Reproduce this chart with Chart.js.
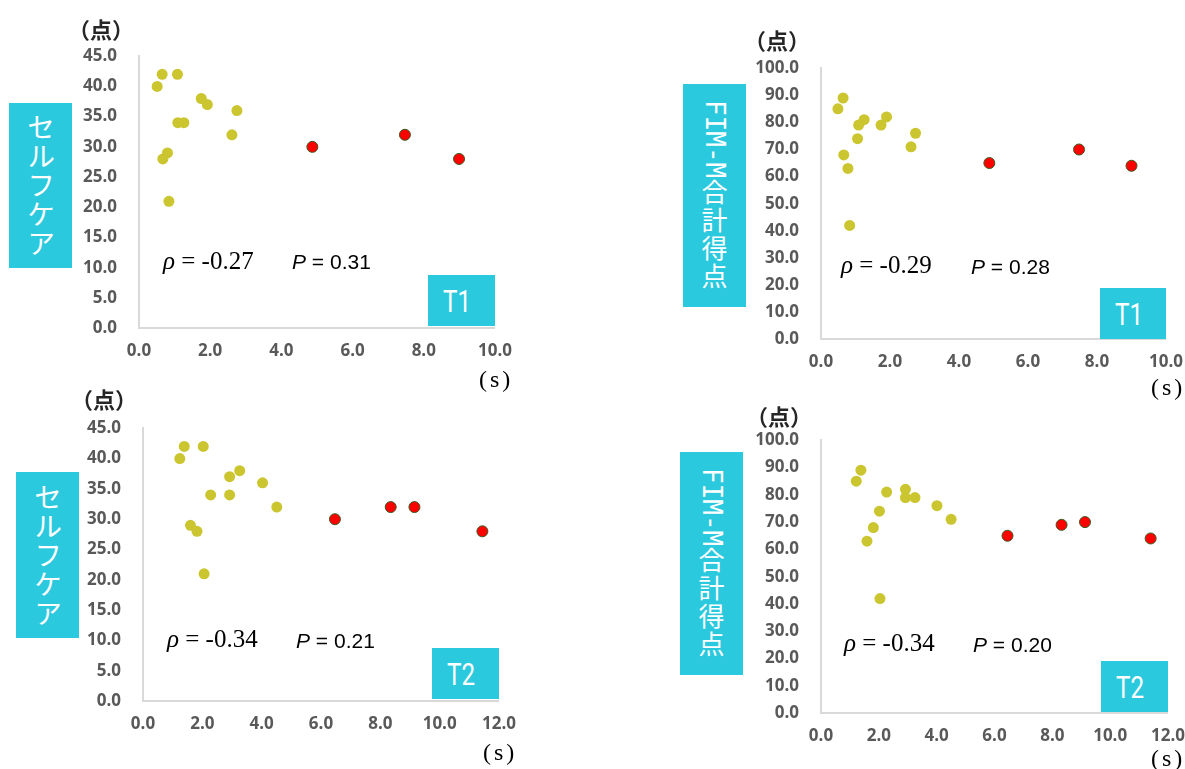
<!DOCTYPE html>
<html lang="ja">
<head>
<meta charset="utf-8">
<title>歩行時間とセルフケア・FIM-M合計得点の相関</title>
<script src="https://cdn.jsdelivr.net/npm/chart.js@4.4.1/dist/chart.umd.min.js"></script>
<style>
  html, body { margin: 0; padding: 0; background: #fff; }
  #wrap { position: relative; width: 1185px; height: 769px; overflow: hidden; }
  canvas.plot { position: absolute; }
  .box { position: absolute; background: #2bc9dd; }
  .vlabel {
    position: absolute; color: #fff; writing-mode: vertical-rl; text-orientation: mixed;
    font-family: "Noto Sans CJK JP", sans-serif; white-space: nowrap;
  }
  .vlabel .lat { font-family: "DejaVu Sans Mono", monospace; letter-spacing: 0; }
  .tag {
    position: absolute; color: #fff; font-family: Roboto, "Liberation Sans", sans-serif;
    font-size: 31px; line-height: 31px; transform: scaleX(0.78); transform-origin: left center;
  }
  .unit {
    position: absolute; font-family: "Noto Sans CJK JP", sans-serif; font-weight: bold;
    font-size: 22px; line-height: 24px; color: #262626; white-space: nowrap;
  }
  .sec {
    position: absolute; font-family: "Liberation Serif", serif;
    font-size: 24px; line-height: 24px; letter-spacing: 3px; color: #000; white-space: nowrap;
  }
  .stat { position: absolute; white-space: nowrap; color: #000; line-height: 28px; }
  .rho { font-family: "Liberation Serif", serif; font-size: 25px; }
  .rho i { font-style: italic; }
  .pv { font-family: "Liberation Sans", Arial, sans-serif; font-size: 21px; }
</style>
</head>
<body>
<div id="wrap"></div>
<script>
// Walking time (s) vs. score; yellow = main group, red = slow outliers.
// T1 self-care
const t1SelfX      = [0.51, 0.65, 1.08, 1.75, 1.92, 2.75, 1.09, 1.26, 2.61, 0.80, 0.67, 0.84];
const t1SelfY      = [40, 42, 42, 38, 37, 36, 34, 34, 32, 29, 28, 21];
const t1SelfRedX   = [4.87, 7.47, 8.99];
const t1SelfRedY   = [30, 32, 28];
// T1 FIM-M total
const t1FimX       = [0.49, 0.64, 1.09, 1.25, 1.06, 1.74, 1.90, 2.74, 2.61, 0.66, 0.78, 0.83];
const t1FimY       = [85, 89, 79, 81, 74, 79, 82, 76, 71, 68, 63, 42];
const t1FimRedX    = [4.88, 7.48, 9.00];
const t1FimRedY    = [65, 70, 64];
// T2 self-care
const t2SelfX      = [1.24, 1.39, 2.03, 3.26, 2.92, 4.03, 2.28, 2.92, 4.51, 1.60, 1.82, 2.06];
const t2SelfY      = [40, 42, 42, 38, 37, 36, 34, 34, 32, 29, 28, 21];
const t2SelfRedX   = [6.47, 8.35, 9.15, 11.44];
const t2SelfRedY   = [30, 32, 32, 28];
// T2 FIM-M total
const t2FimX       = [1.22, 1.38, 2.27, 2.92, 2.92, 3.25, 4.01, 4.50, 2.02, 1.81, 1.59, 2.04];
const t2FimY       = [85, 89, 81, 82, 79, 79, 76, 71, 74, 68, 63, 42];
const t2FimRedX    = [6.45, 8.32, 9.13, 11.40];
const t2FimRedY    = [65, 69, 70, 64];

// Axis ranges and tick steps
const selfYTicks = { min: 0, max: 45, step: 5 };
const fimYTicks  = { min: 0, max: 100, step: 10 };
const t1XTicks   = { min: 0, max: 10, step: 2 };
const t2XTicks   = { min: 0, max: 12, step: 2 };

// Labels
const selfTitle = 'セルフケア';
const fimTitle  = '<span class="lat">FIM-M</span>合計得点';
const stats = {
  t1Self: { rho: '-0.27', p: '0.31', tag: 'T1' },
  t1Fim:  { rho: '-0.29', p: '0.28', tag: 'T1' },
  t2Self: { rho: '-0.34', p: '0.21', tag: 'T2' },
  t2Fim:  { rho: '-0.34', p: '0.20', tag: 'T2' }
};

const pairs = (xs, ys) => xs.map((x, i) => ({ x, y: ys[i] }));

const wrap = document.getElementById('wrap');
const Y_AXIS_W = 72, X_AXIS_H = 42, PAD_TOP = 16, PAD_RIGHT = 26;

function el(cls, css, html) {
  const d = document.createElement('div');
  d.className = cls;
  Object.assign(d.style, css);
  if (html !== undefined) d.innerHTML = html;
  wrap.appendChild(d);
  return d;
}

function place(cv, left, top, w, h) {
  Object.assign(cv.style, { left: left + 'px', top: top + 'px', width: w + 'px', height: h + 'px' });
}

function panel(cfg) {
  const a = cfg.area; // plot-area edges in page pixels
  const cv = document.createElement('canvas');
  cv.className = 'plot';
  let left = a.left - Y_AXIS_W, top = a.top - PAD_TOP;
  let w = a.right + PAD_RIGHT - left, h = a.bottom + X_AXIS_H - top;
  place(cv, left, top, w, h);
  cv.width = w; cv.height = h;
  wrap.appendChild(cv);

  const tickFont = { family: '"Open Sans", Lato, sans-serif', size: 17, weight: 'bold' };
  const chart = new Chart(cv, {
    type: 'scatter',
    data: {
      datasets: [
        { data: pairs(cfg.x, cfg.y), backgroundColor: '#cbc530', borderColor: '#cbc530',
          borderWidth: 0, pointRadius: 5.5, pointHoverRadius: 5.5 },
        { data: pairs(cfg.rx, cfg.ry), backgroundColor: '#ff0000', borderColor: '#3b5a22',
          borderWidth: 1, pointRadius: 5.5, pointHoverRadius: 5.5 }
      ]
    },
    options: {
      responsive: false, maintainAspectRatio: false, animation: false,
      layout: { padding: { top: PAD_TOP, right: PAD_RIGHT, left: 0, bottom: 0 } },
      plugins: { legend: { display: false }, tooltip: { enabled: false } },
      scales: {
        x: {
          type: 'linear', min: cfg.xt.min, max: cfg.xt.max,
          afterFit: s => { s.height = X_AXIS_H; },
          ticks: { stepSize: cfg.xt.step, padding: 13, color: '#595959', font: tickFont,
                   maxRotation: 0, callback: v => Number(v).toFixed(1) },
          grid: { display: false, drawTicks: false },
          border: { display: true, color: '#d9d9d9', width: 2 }
        },
        y: {
          type: 'linear', min: cfg.yt.min, max: cfg.yt.max,
          afterFit: s => { s.width = Y_AXIS_W; },
          ticks: { stepSize: cfg.yt.step, padding: 22, color: '#595959', font: tickFont,
                   callback: v => Number(v).toFixed(1) },
          grid: { display: false, drawTicks: false },
          border: { display: true, color: '#d9d9d9', width: 2 }
        }
      }
    }
  });

  // line the plot area up with the intended page edges
  for (let k = 0; k < 3; k++) {
    const ca = chart.chartArea;
    left += a.left - (left + ca.left);
    top += a.top - (top + ca.top);
    w += a.right - (left + ca.right);
    h += a.bottom - (top + ca.bottom);
    place(cv, left, top, w, h);
    chart.resize(w, h);
  }

  // vertical title box
  const b = cfg.titleBox;
  el('box', { left: b.x + 'px', top: b.y + 'px', width: b.w + 'px', height: b.h + 'px' });
  el('vlabel', { left: b.x + 'px', top: b.y + 'px', width: b.w + 'px', height: b.h + 'px',
    fontSize: cfg.titleSize + 'px', letterSpacing: cfg.titleSpacing + 'px',
    display: 'flex', alignItems: 'center', justifyContent: 'center', lineHeight: b.w + 'px' }, cfg.title);

  // period tag box
  const t = cfg.tagBox;
  el('box', { left: t.x + 'px', top: t.y + 'px', width: t.w + 'px', height: t.h + 'px' });
  el('tag', { left: (t.x + 15) + 'px', top: (t.y + t.h / 2 - 15) + 'px' }, cfg.stat.tag);

  // unit labels
  el('unit', { left: cfg.unitPos.x + 'px', top: (cfg.unitPos.y - 12) + 'px' }, '（点）');
  el('sec', { left: cfg.secPos.x + 'px', top: (cfg.secPos.y - 12) + 'px' }, '(s)');

  // correlation text
  el('stat rho', { left: cfg.rhoPos.x + 'px', top: (cfg.rhoPos.y - 14) + 'px' },
     '<i>ρ</i> = ' + cfg.stat.rho);
  el('stat pv', { left: cfg.pPos.x + 'px', top: (cfg.pPos.y - 14) + 'px' },
     '<i>P</i> = ' + cfg.stat.p);
}

panel({
  area: { left: 139, right: 495, top: 56, bottom: 328 },
  x: t1SelfX, y: t1SelfY, rx: t1SelfRedX, ry: t1SelfRedY, xt: t1XTicks, yt: selfYTicks,
  title: selfTitle, titleSize: 28, titleSpacing: 1, titleBox: { x: 9, y: 103, w: 63, h: 165 },
  tagBox: { x: 428, y: 275, w: 67, h: 51 }, stat: stats.t1Self,
  unitPos: { x: 68, y: 28 }, secPos: { x: 479, y: 379 },
  rhoPos: { x: 163, y: 261 }, pPos: { x: 292, y: 262 }
});
panel({
  area: { left: 821, right: 1166, top: 68, bottom: 339 },
  x: t1FimX, y: t1FimY, rx: t1FimRedX, ry: t1FimRedY, xt: t1XTicks, yt: fimYTicks,
  title: fimTitle, titleSize: 26, titleSpacing: 2, titleBox: { x: 683, y: 84, w: 63, h: 223 },
  tagBox: { x: 1100, y: 288, w: 66, h: 51 }, stat: stats.t1Fim,
  unitPos: { x: 744, y: 39 }, secPos: { x: 1151, y: 387 },
  rhoPos: { x: 841, y: 265 }, pPos: { x: 971, y: 267 }
});
panel({
  area: { left: 143, right: 499, top: 428, bottom: 701 },
  x: t2SelfX, y: t2SelfY, rx: t2SelfRedX, ry: t2SelfRedY, xt: t2XTicks, yt: selfYTicks,
  title: selfTitle, titleSize: 28, titleSpacing: 1, titleBox: { x: 16, y: 472, w: 63, h: 166 },
  tagBox: { x: 432, y: 648, w: 67, h: 51 }, stat: stats.t2Self,
  unitPos: { x: 71, y: 398 }, secPos: { x: 483, y: 752 },
  rhoPos: { x: 167, y: 639 }, pPos: { x: 296, y: 641 }
});
panel({
  area: { left: 821, right: 1168, top: 440, bottom: 713 },
  x: t2FimX, y: t2FimY, rx: t2FimRedX, ry: t2FimRedY, xt: t2XTicks, yt: fimYTicks,
  title: fimTitle, titleSize: 26, titleSpacing: 2, titleBox: { x: 680, y: 452, w: 63, h: 223 },
  tagBox: { x: 1101, y: 661, w: 67, h: 51 }, stat: stats.t2Fim,
  unitPos: { x: 746, y: 415 }, secPos: { x: 1151, y: 758 },
  rhoPos: { x: 844, y: 643 }, pPos: { x: 973, y: 645 }
});
</script>
</body>
</html>
